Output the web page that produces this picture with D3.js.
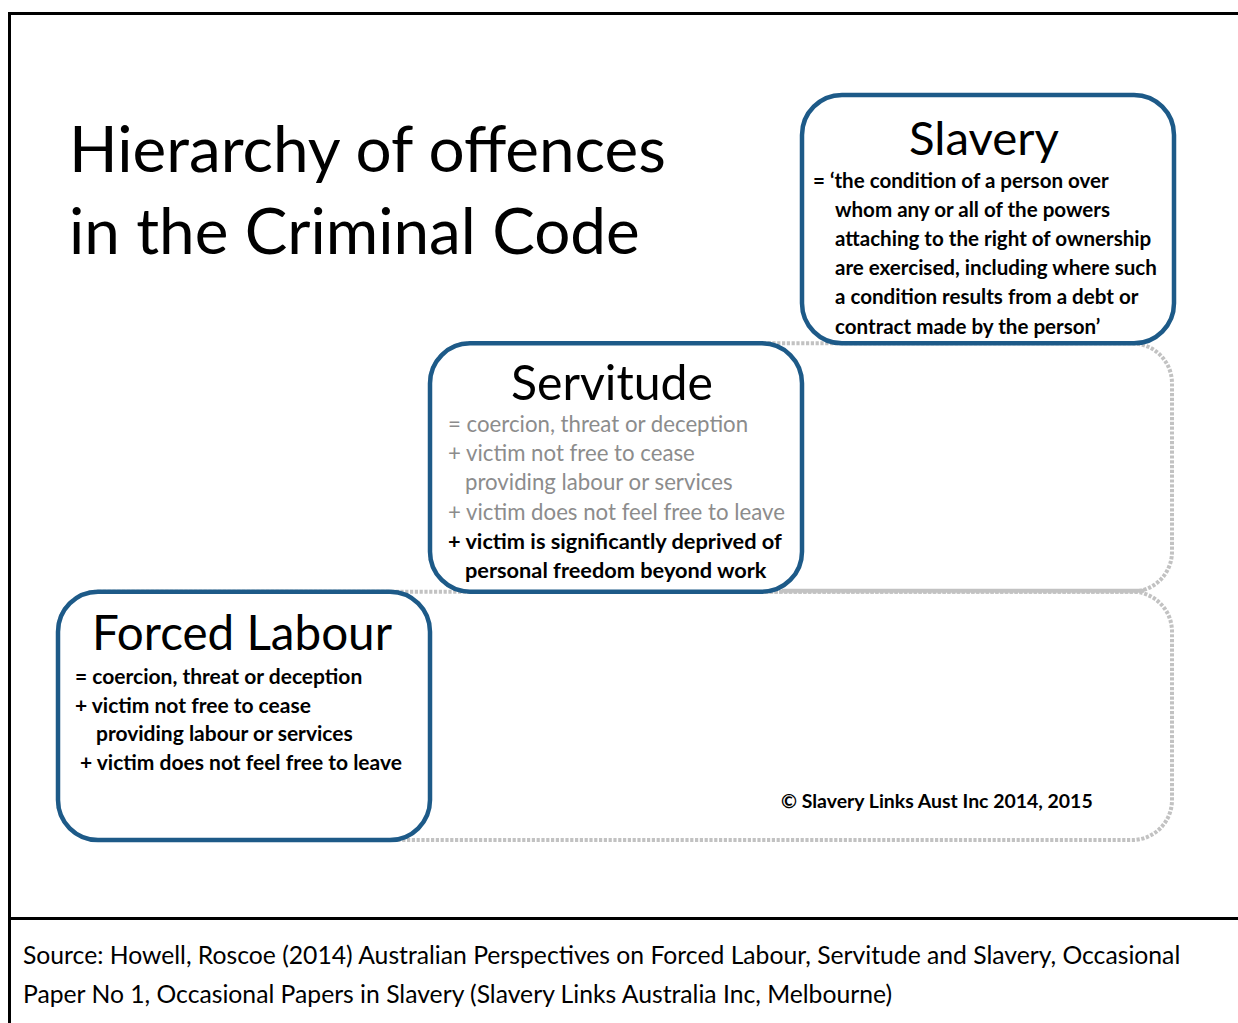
<!DOCTYPE html>
<html><head><meta charset="utf-8">
<script src="https://cdn.jsdelivr.net/npm/d3@7"></script>
<style>html,body{margin:0;padding:0;background:#fff;}svg{display:block;}</style>
</head><body>
<svg id="c" width="1238" height="1023"></svg>
<script>
// ---- content ----
const titleLines = ["Hierarchy of offences", "in the Criminal Code"];
const offences = ["Forced Labour", "Servitude", "Slavery"];
const forcedLabourLines = [
  "= coercion, threat or deception",
  "+ victim not free to cease",
  "providing labour or services",
  "+ victim does not feel free to leave"
];
const servitudeInheritedLines = [
  "= coercion, threat or deception",
  "+ victim not free to cease",
  "providing labour or services",
  "+ victim does not feel free to leave"
];
const servitudeNewLines = [
  "+ victim is significantly deprived of",
  "personal freedom beyond work"
];
const slaveryLines = [
  "= \u2018the condition of a person over",
  "whom any or all of the powers",
  "attaching to the right of ownership",
  "are exercised, including where such",
  "a condition results from a debt or",
  "contract made by the person\u2019"
];
const copyrightText = "\u00A9 Slavery Links Aust Inc 2014, 2015";
const sourceLines = [
  "Source: Howell, Roscoe (2014) Australian Perspectives on Forced Labour, Servitude and Slavery, Occasional",
  "Paper No 1, Occasional Papers in Slavery (Slavery Links Australia Inc, Melbourne)"
];

// ---- layout ----
const svg = d3.select("#c");
const FONT = "Lato, 'Open Sans', sans-serif";
const BLUE = "#1d5a88";
const GREY = "#c2c2c2";
const x = d3.scaleLinear().domain([0, 3]).range([58, 1174]);
const y = d3.scaleLinear().domain([0, 3]).range([840, 95]);
const R = 40;

function fit(sel, w) {
  sel.each(function () {
    const cur = this.getComputedTextLength();
    const fs = parseFloat(d3.select(this).attr("font-size"));
    d3.select(this).attr("font-size", fs * w / cur);
  });
}
function fitGroup(sel, w) {
  let max = 0; sel.each(function () { max = Math.max(max, this.getComputedTextLength()); });
  const fs = parseFloat(sel.attr("font-size"));
  sel.attr("font-size", fs * w / max);
}

// frame
svg.append("path").attr("d", "M9.5,1023V13.5H1238").attr("fill", "none").attr("stroke", "#000").attr("stroke-width", 3);
svg.append("line").attr("x1", 9).attr("x2", 1238).attr("y1", 918.5).attr("y2", 918.5).attr("stroke", "#000").attr("stroke-width", 3);

// title
const tt = svg.append("g").selectAll("text").data(titleLines).join("text")
  .attr("x", 69).attr("y", (d, i) => 172 + i * 82)
  .attr("font-family", FONT).attr("font-size", 60).attr("fill", "#000").text(d => d);
fit(tt.filter((d, i) => i === 0), 597);
tt.filter((d, i) => i === 1).attr("font-size", tt.filter((d, i) => i === 0).attr("font-size"));

// dotted grey tiers
const dashed = svg.append("g").attr("fill", "none").attr("stroke", GREY).attr("stroke-width", 4).attr("stroke-dasharray", "3.2 1.6");
[0, 1].forEach(lvl => {
  dashed.append("rect")
    .attr("x", x(lvl)).attr("y", y(lvl + 1))
    .attr("width", x(3) - x(lvl) - 2).attr("height", y(lvl) - y(lvl + 1))
    .attr("rx", R).attr("ry", R);
});
svg.append("line").attr("x1", x(2) - 20).attr("x2", x(3) - 30).attr("y1", y(1) - 1).attr("y2", y(1) - 1)
  .attr("stroke", GREY).attr("stroke-width", 4);

// offence boxes
const boxes = svg.append("g").selectAll("g").data(offences).join("g");
boxes.append("rect")
  .attr("x", (d, i) => x(i)).attr("y", (d, i) => y(i + 1))
  .attr("width", (d, i) => x(i + 1) - x(i)).attr("height", (d, i) => y(i) - y(i + 1))
  .attr("rx", R).attr("ry", R)
  .attr("fill", "#fff").attr("stroke", BLUE).attr("stroke-width", 4.5);

// box titles
const headW = [300, 202, 150];
const headY = [650, 400, 155];
const headShift = [-2, -4, -4];
boxes.append("text")
  .attr("x", (d, i) => (x(i) + x(i + 1)) / 2 + headShift[i])
  .attr("y", (d, i) => headY[i])
  .attr("text-anchor", "middle").attr("font-family", FONT).attr("font-size", 44).attr("fill", "#000")
  .text(d => d)
  .each(function (d, i) { fit(d3.select(this), headW[i]); });

// body text helper
function body(lines, x0, indent, y0, step, color, weight) {
  return svg.append("g").selectAll("text").data(lines).join("text")
    .attr("x", d => /^[=+]/.test(d) ? x0 : x0 + indent)
    .attr("y", (d, i) => y0 + i * step)
    .attr("font-family", FONT).attr("font-size", 19).attr("font-weight", weight)
    .attr("fill", color).text(d => d);
}

const sl = body(slaveryLines, x(2) + 11, 22, 188, 29.1, "#000", 700);
fitGroup(sl, 322);

const sv1 = body(servitudeInheritedLines, x(1) + 18, 17, 432, 29.2, "#8c8c8c", 400);
fitGroup(sv1, 337);
const sv2 = body(servitudeNewLines, x(1) + 18, 17, 432 + 4 * 29.2, 29.2, "#000", 700);
fitGroup(sv2, 334);

const fl = body(forcedLabourLines, x(0) + 17, 21, 684, 28.6, "#000", 700);
fitGroup(fl, 322);
fl.filter((d, i) => i === 3).attr("x", x(0) + 22);

// copyright
const cp = svg.append("text").attr("x", 781).attr("y", 808)
  .attr("font-family", FONT).attr("font-size", 18).attr("font-weight", 700).attr("fill", "#000")
  .text(copyrightText);
fit(cp, 312);

// source
const src = svg.append("g").selectAll("text").data(sourceLines).join("text")
  .attr("x", 23).attr("y", (d, i) => 964 + i * 39)
  .attr("font-family", FONT).attr("font-size", 22).attr("fill", "#000").text(d => d);
fit(src.filter((d, i) => i === 0), 1158);
src.filter((d, i) => i === 1).attr("font-size", src.filter((d, i) => i === 0).attr("font-size"));
</script>
</body></html>
